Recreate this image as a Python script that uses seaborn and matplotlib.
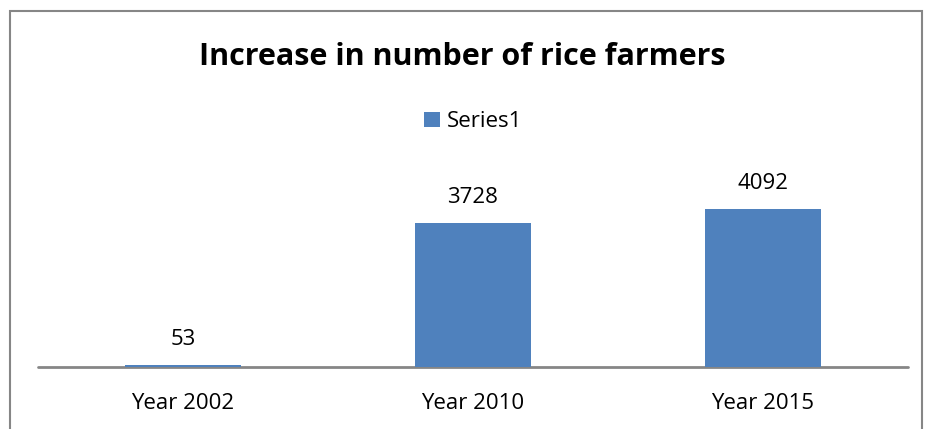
import matplotlib
matplotlib.use("Agg")
import matplotlib.pyplot as plt
import seaborn as sns
import pandas as pd
from matplotlib.patches import Rectangle

#%% data
years = ["Year 2002", "Year 2010", "Year 2015"]
farmers = [53, 3728, 4092]
series_name = "Series1"

df = pd.DataFrame({"Year": years, "Farmers": farmers, "Series": series_name})

#%% plot
sns.set_style("white")
plt.rcParams["font.family"] = ["Open Sans", "DejaVu Sans"]
plt.rcParams["text.color"] = "black"
plt.rcParams["xtick.color"] = "black"

fig = plt.figure(figsize=(9.25, 4.29), dpi=100)
ax = fig.add_axes([38 / 925, 62 / 429, 870 / 925, 193 / 429])

sns.barplot(data=df, x="Year", y="Farmers", hue="Series", palette=["#4F81BD"],
            width=0.4, ax=ax, saturation=1, zorder=3, linewidth=0)

for cont in ax.containers:
    ax.bar_label(cont, padding=11, fontsize=16, color="black")

ax.set_ylim(0, 5000)
ax.set_xlim(-0.5, 2.5)
ax.set_xlabel("")
ax.set_ylabel("")
ax.set_yticks([])
ax.tick_params(axis="x", length=0, pad=19, labelsize=16, labelcolor="black")
for side in ["top", "left", "right", "bottom"]:
    ax.spines[side].set_visible(False)
# baseline drawn under the bars
ax.axhline(0, color="#868686", linewidth=2, zorder=1, clip_on=False)

ax.legend(loc="center", bbox_to_anchor=(0.5, 1.27), bbox_transform=ax.transAxes,
          frameon=False, fontsize=16, handlelength=0.7, handleheight=0.7,
          handletextpad=0.3)

fig.text(0.5, 1 - 57 / 429, "Increase in number of rice farmers", ha="center",
         va="center", fontsize=22, fontweight="bold", color="black")

# chart border
fig.patches.append(Rectangle((10 / 925, -0.1), 912 / 925, 1.1 - 11 / 429,
                             transform=fig.transFigure, fill=False,
                             edgecolor="#868686", linewidth=1.5))

fig.savefig("out.png", dpi=100)
